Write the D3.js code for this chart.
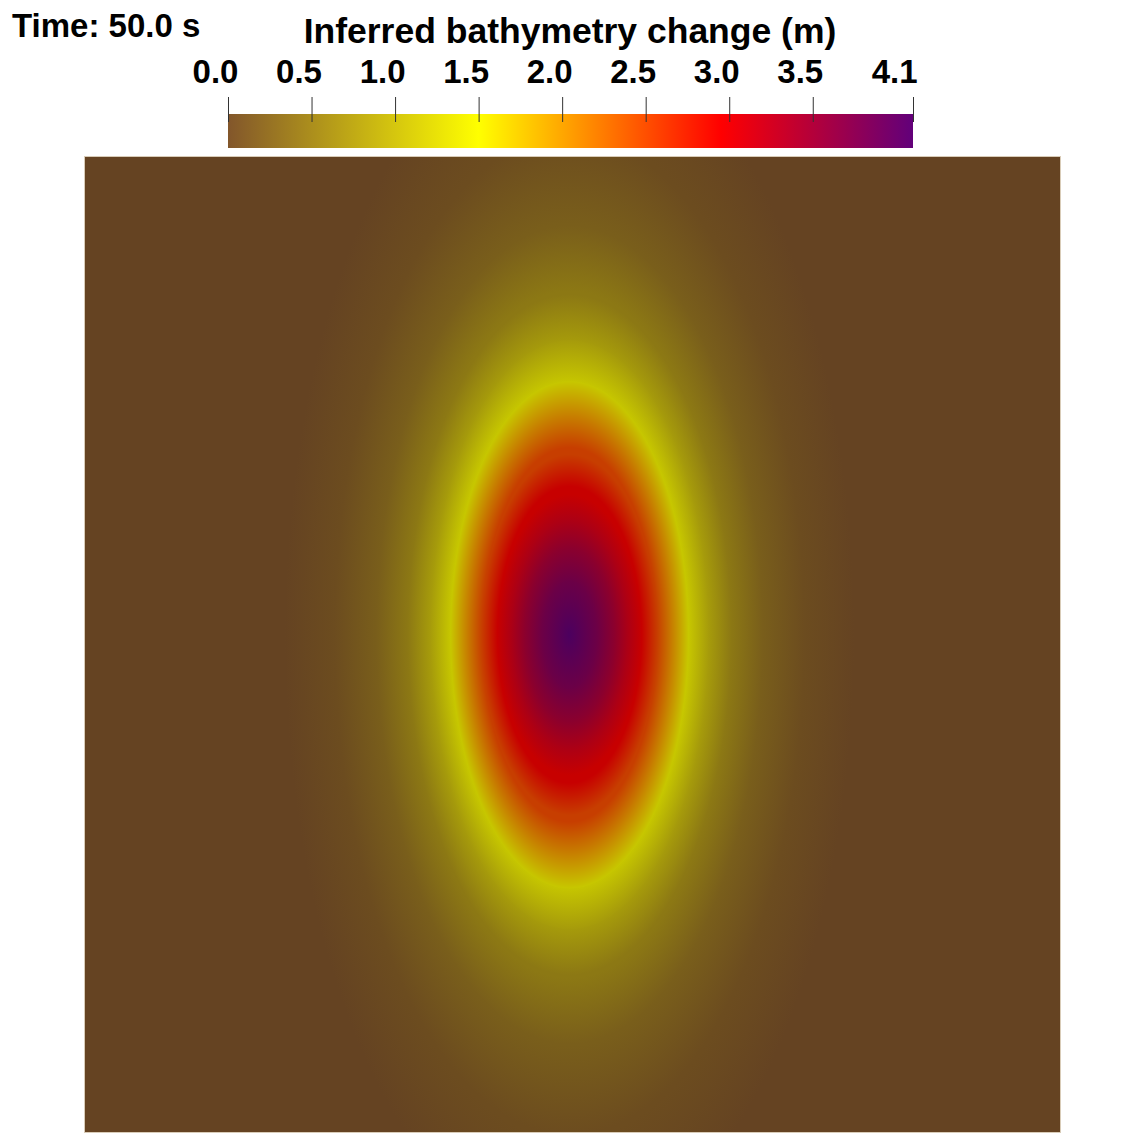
<!DOCTYPE html>
<html>
<head>
<meta charset="utf-8">
<script src="https://cdn.jsdelivr.net/npm/d3@7"></script>
<style>
  html, body { margin: 0; padding: 0; background: #ffffff; }
  svg { display: block; }
  text { font-family: "Liberation Sans", Arial, sans-serif; font-weight: 700; fill: #000; }
</style>
</head>
<body>
<script>
// colour map (value -> colour), as on the colour bar
var colorNodes = [0.0, 1.5, 2.95, 4.1];
var colorStops = ["#82562b", "#ffff00", "#ff0000", "#62007a"];

// colour bar ticks
var tickValues = [0.0, 0.5, 1.0, 1.5, 2.0, 2.5, 3.0, 3.5, 4.1];
var tickLabels = ["0.0", "0.5", "1.0", "1.5", "2.0", "2.5", "3.0", "3.5", "4.1"];

// bump: contour level (m) and its half width / half height (domain units)
var levels  = [4.1,   3.8,   3.5,   3.2,   2.95,  2.5,   2.0,   1.5,   1.0,   0.6,   0.3,   0.1,   0.0];
var radiusX = [0.000, 0.028, 0.046, 0.060, 0.074, 0.090, 0.106, 0.122, 0.143, 0.166, 0.198, 0.241, 0.292];
var radiusY = [0.000, 0.056, 0.090, 0.117, 0.144, 0.185, 0.226, 0.260, 0.302, 0.349, 0.420, 0.513, 0.626];
var center = [0.497, 0.510];     // bump centre in domain units

var W = 1142, H = 1141;
var field = { x0: 85, x1: 1060, y0: 157, y1: 1132 };
var bar = { x0: 228, x1: 913, y0: 114, y1: 148 };

var color = d3.scaleLinear().domain(colorNodes).range(colorStops).clamp(true);
var shade = function (c) {
  var r = d3.rgb(c), k = 0.78;   // lighting of the rendered surface
  return d3.rgb(r.r * k, r.g * k, r.b * k).formatHex();
};

var svg = d3.select("body").append("svg").attr("width", W).attr("height", H);
var defs = svg.append("defs");

// ---- field ----
var x = d3.scaleLinear().domain([0, 1]).range([field.x0, field.x1]);
var y = d3.scaleLinear().domain([0, 1]).range([field.y1, field.y0]);
var len = d3.scaleLinear().domain([0, 1]).range([0, field.x1 - field.x0]);

defs.append("clipPath").attr("id", "fieldClip")
  .append("rect").attr("x", field.x0).attr("y", field.y0)
  .attr("width", field.x1 - field.x0).attr("height", field.y1 - field.y0);

// contours from outside in; each one shades smoothly to the next level inside it
var rings = levels.map(function (v, i) { return { v: v, rx: radiusX[i], ry: radiusY[i] }; })
  .sort(function (a, b) { return b.rx - a.rx; });
rings.forEach(function (d, i) { d.inner = rings[i + 1]; });
rings = rings.filter(function (d) { return d.inner; });

rings.forEach(function (d, i) {
  var gr = defs.append("radialGradient").attr("id", "ring" + i)
    .attr("cx", "50%").attr("cy", "50%").attr("r", "50%");
  gr.append("stop").attr("offset", (d.inner.rx / d.rx * 100) + "%")
    .attr("stop-color", shade(color(d.inner.v)));
  gr.append("stop").attr("offset", "100%").attr("stop-color", shade(color(d.v)));
});

var g = svg.append("g").attr("clip-path", "url(#fieldClip)");
g.append("rect").attr("x", field.x0).attr("y", field.y0)
  .attr("width", field.x1 - field.x0).attr("height", field.y1 - field.y0)
  .attr("fill", shade(color(d3.min(levels))));
g.selectAll("ellipse").data(rings).enter().append("ellipse")
  .attr("cx", x(center[0])).attr("cy", y(center[1]))
  .attr("rx", function (d) { return len(d.rx); })
  .attr("ry", function (d) { return len(d.ry); })
  .attr("fill", function (d, i) { return "url(#ring" + i + ")"; });

svg.append("rect").attr("x", field.x0 - 0.5).attr("y", field.y0 - 0.5)
  .attr("width", field.x1 - field.x0 + 1).attr("height", field.y1 - field.y0 + 1)
  .attr("fill", "none").attr("stroke", "#d9ccb8").attr("stroke-width", 1);

// ---- colour bar ----
var cb = d3.scaleLinear().domain([0, d3.max(tickValues)]).range([bar.x0, bar.x1]);
var lg = defs.append("linearGradient").attr("id", "cbar")
  .attr("gradientUnits", "userSpaceOnUse")
  .attr("x1", bar.x0).attr("x2", bar.x1).attr("y1", 0).attr("y2", 0);
lg.selectAll("stop").data(colorNodes).enter().append("stop")
  .attr("offset", function (d) { return ((cb(d) - bar.x0) / (bar.x1 - bar.x0) * 100) + "%"; })
  .attr("stop-color", function (d) { return color(d); });

svg.append("rect").attr("x", bar.x0).attr("y", bar.y0)
  .attr("width", bar.x1 - bar.x0).attr("height", bar.y1 - bar.y0)
  .attr("fill", "url(#cbar)");

var axis = d3.axisTop(cb).tickValues(tickValues)
  .tickFormat(function (d, i) { return tickLabels[i]; })
  .tickSize(25).tickPadding(14);
var ag = svg.append("g").attr("transform", "translate(0," + (bar.y0 + 8) + ")").call(axis);
ag.select(".domain").remove();
ag.selectAll(".tick line").attr("stroke", "#333").attr("stroke-width", 1);
ag.selectAll(".tick text")
  .attr("font-size", 33).attr("fill", "#000")
  .attr("font-family", "'Liberation Sans', Arial, sans-serif").attr("font-weight", 700)
  .attr("text-anchor", function (d, i) { return i === tickValues.length - 1 ? "end" : "middle"; })
  .attr("dx", function (d, i) { return i === tickValues.length - 1 ? 4 : -13; });

svg.append("text").attr("x", 570).attr("y", 43).attr("text-anchor", "middle")
  .attr("font-size", 35.5).text("Inferred bathymetry change (m)");

svg.append("text").attr("x", 12).attr("y", 37).attr("font-size", 33).text("Time: 50.0 s");
</script>
</body>
</html>
